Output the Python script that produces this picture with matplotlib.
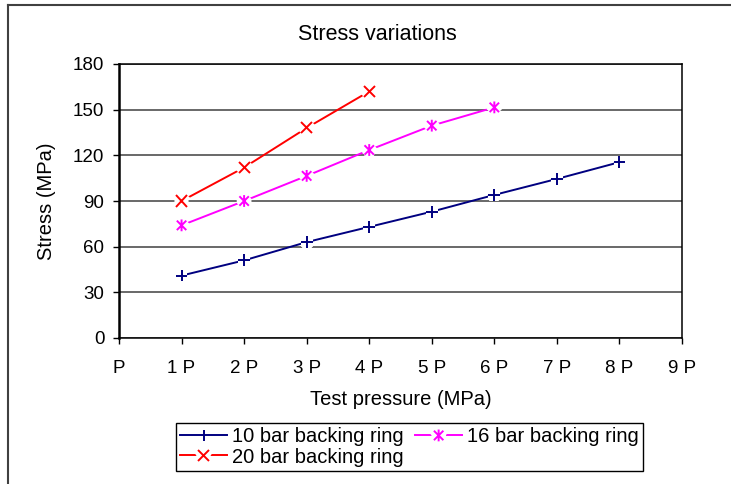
import matplotlib
matplotlib.use("Agg")
import matplotlib.pyplot as plt
import matplotlib.patheffects as pe
from matplotlib.lines import Line2D
from matplotlib.path import Path

plt.rcParams["font.family"] = ["Liberation Sans", "DejaVu Sans"]

# test pressure steps (multiples of P) and measured stress, MPa
pressure_10 = [1, 2, 3, 4, 5, 6, 7, 8]
stress_10 = [41, 51, 63, 73, 83, 94, 104.5, 115.5]
pressure_16 = [1, 2, 3, 4, 5, 6]
stress_16 = [74, 90, 106.5, 123.5, 139.5, 151.5]
pressure_20 = [1, 2, 3, 4]
stress_20 = [90, 112, 138, 162]

x_ticks = list(range(10))
x_labels = ["P"] + [f"{i} P" for i in range(1, 10)]
y_ticks = [0, 30, 60, 90, 120, 150, 180]

# Excel-style asterisk: X plus a vertical bar
asterisk = Path(
    [(0, -1), (0, 1), (-0.8, -0.8), (0.8, 0.8), (-0.8, 0.8), (0.8, -0.8)],
    [Path.MOVETO, Path.LINETO] * 3,
)

series = [
    ("10 bar backing ring", pressure_10, stress_10, "#000080", "+", 8.5),
    ("16 bar backing ring", pressure_16, stress_16, "#FF00FF", asterisk, 8.5),
    ("20 bar backing ring", pressure_20, stress_20, "#FF0000", "x", 8),
]

fig = plt.figure(figsize=(7.31, 4.84), dpi=100)
ax = fig.add_axes([119 / 731, 1 - 338 / 484, 563 / 731, 274 / 484])

halo = [pe.withStroke(linewidth=7, foreground="white")]
handles = {}
for name, xs, ys, color, marker, ms in series:
    ln, = ax.plot(xs, ys, color=color, lw=1.4, zorder=3)
    mk, = ax.plot(xs, ys, ls="none", marker=marker, ms=ms, mew=1.4,
                  color=color, mec=color, zorder=4, path_effects=halo)
    handles[name] = (ln, mk)

ax.set_xlim(0, 9)
ax.set_ylim(0, 180)
ax.set_xticks(x_ticks)
ax.set_xticklabels(x_labels)
ax.set_yticks(y_ticks)
ax.tick_params(axis="both", labelsize=13.5, direction="out", length=4.5,
               width=1, color="black")
ax.tick_params(axis="x", pad=11)
ax.tick_params(axis="y", pad=6)

ax.grid(axis="y", color="#404040", lw=1.1, zorder=1)
ax.set_axisbelow(True)
for side in ["top", "right", "bottom"]:
    ax.spines[side].set_linewidth(1.1)
ax.spines["left"].set_linewidth(1.8)

ax.set_xlabel("Test pressure (MPa)", fontsize=14.5, labelpad=10)
ax.set_ylabel("Stress (MPa)", fontsize=14.5, labelpad=12)
fig.text(377 / 731, 1 - 34 / 484, "Stress variations", fontsize=15.5,
         ha="center", va="center")

order = ["10 bar backing ring", "20 bar backing ring", "16 bar backing ring"]
leg = fig.legend([handles[n] for n in order], order, ncol=2,
                 loc="center", bbox_to_anchor=(409.5 / 731, 1 - 447 / 484),
                 fontsize=14.5, frameon=True, fancybox=False, framealpha=1,
                 edgecolor="black", handlelength=2.3, handletextpad=0.25,
                 columnspacing=0.6, labelspacing=0.05, borderpad=0.2,
                 borderaxespad=0)
leg.get_frame().set_linewidth(1.0)

# chart-area border (top and left edges)
fig.add_artist(Line2D([8 / 731, 1], [1 - 5 / 484, 1 - 5 / 484],
                      color="#404040", lw=1.5))
fig.add_artist(Line2D([8 / 731, 8 / 731], [0, 1 - 5 / 484],
                      color="#404040", lw=1.5))

fig.savefig("out.png", dpi=100)
